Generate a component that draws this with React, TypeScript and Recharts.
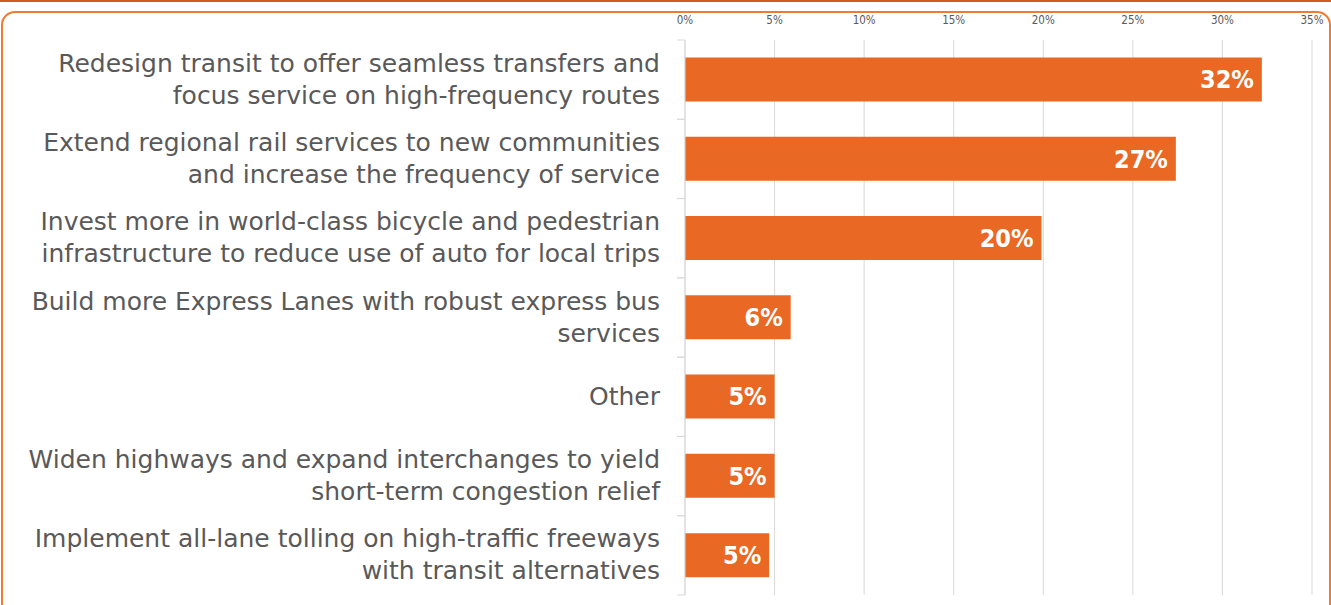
import { Bar, BarChart, CartesianGrid, LabelList, XAxis, YAxis } from "recharts";

const categories = [
  "Redesign transit to offer seamless transfers and\nfocus service on high-frequency routes",
  "Extend regional rail services to new communities\nand increase the frequency of service",
  "Invest more in world-class bicycle and pedestrian\ninfrastructure to reduce use of auto for local trips",
  "Build more Express Lanes with robust express bus\nservices",
  "Other",
  "Widen highways and expand interchanges to yield\nshort-term congestion relief",
  "Implement all-lane tolling on high-traffic freeways\nwith transit alternatives",
];
const shares = [32.2, 27.4, 19.9, 5.9, 5.0, 5.0, 4.7];
const xTicks = [0, 5, 10, 15, 20, 25, 30, 35];

const data = categories.map((name, i) => ({ name, value: shares[i] }));

const FONT = "'DejaVu Sans', sans-serif";
const CONDENSED = "'DejaVu Sans Condensed', 'DejaVu Sans', sans-serif";

const CategoryTick = (props: any) => {
  const { x, y, payload } = props;
  const lines = String(payload.value).split("\n");
  const lh = 32;
  const half = payload.offset || 39.6;
  const y0 = y - 1 - ((lines.length - 1) * lh) / 2;
  return (
    <g>
      <line x1={x + 17} x2={x + 25} y1={y - half} y2={y - half} stroke="#d9d9d9" />
      <line x1={x + 17} x2={x + 25} y1={y + half} y2={y + half} stroke="#d9d9d9" />
      <text x={x} y={y0} textAnchor="end" fill="#595959" fontSize={25} fontFamily={FONT} dominantBaseline="central">
        {lines.map((l, i) => (
          <tspan key={i} x={x} y={y0 + i * lh}>
            {l}
          </tspan>
        ))}
      </text>
    </g>
  );
};

const PctTick = (props: any) => {
  const { x, y, payload } = props;
  return (
    <text x={x} y={y} textAnchor="middle" fill="#595959" fontSize={11.5} fontFamily={CONDENSED}>
      {`${payload.value}%`}
    </text>
  );
};

const App = () => {
  return (
    <div style={{ position: "absolute", left: 0, top: 0, width: 1331, height: 605, background: "#fff", overflow: "hidden" }}>
      <div style={{ position: "absolute", left: 0, top: 0, width: 1331, height: 2, background: "#d35a1c" }} />
      <div
        style={{
          position: "absolute",
          left: 1,
          top: 11,
          width: 1326,
          height: 620,
          border: "2px solid #f07a32",
          borderRadius: 14,
        }}
      />
      <div style={{ position: "absolute", left: 0, top: 0 }}>
        <BarChart
          width={1331}
          height={605}
          data={data}
          layout="vertical"
          margin={{ top: 0, right: 19, bottom: 10, left: 0 }}
          barCategoryGap="22%"
        >
          <CartesianGrid horizontal={false} stroke="#d9d9d9" />
          <XAxis
            type="number"
            orientation="top"
            domain={[0, 35]}
            ticks={xTicks}
            axisLine={false}
            tickLine={false}
            height={40}
            tick={<PctTick />}
            tickMargin={10}
          />
          <YAxis
            type="category"
            dataKey="name"
            width={685}
            axisLine={{ stroke: "#d9d9d9" }}
            tickLine={false}
            tick={<CategoryTick />}
            tickMargin={19}
            interval={0}
          />
          <Bar dataKey="value" fill="#e96823" isAnimationActive={false}>
            <LabelList
              dataKey="value"
              position="insideRight"
              formatter={(v: any) => `${Math.round(Number(v))}%`}
              fill="#fff"
              fontSize={25}
              fontWeight="bold"
              fontFamily={CONDENSED}
              offset={8}
            />
          </Bar>
        </BarChart>
      </div>
    </div>
  );
};

export default App;
